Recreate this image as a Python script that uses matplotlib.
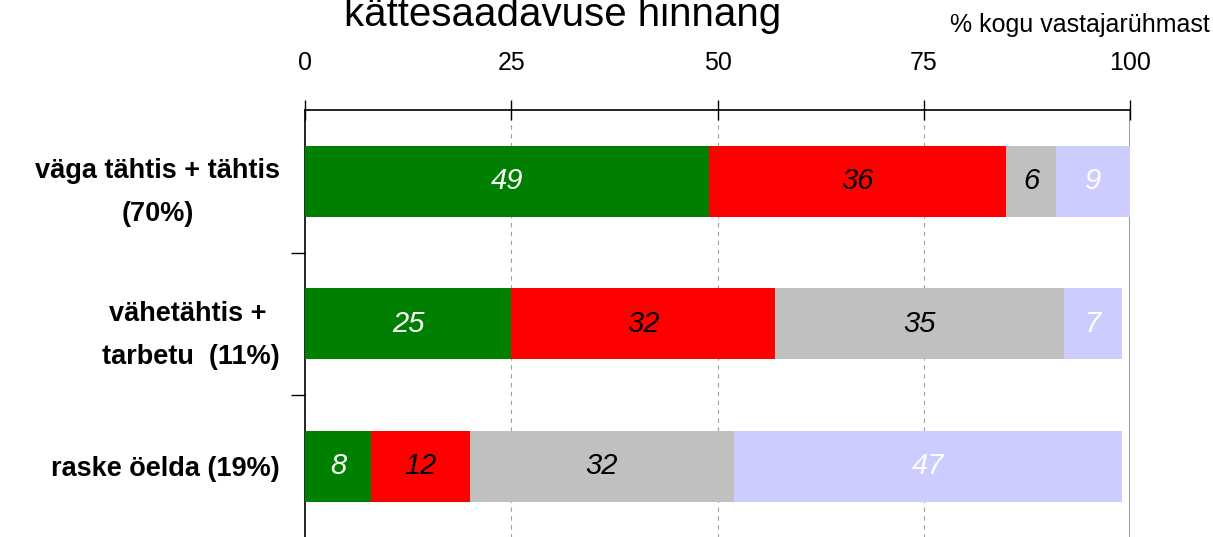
import matplotlib
matplotlib.use("Agg")
import matplotlib.pyplot as plt
import numpy as np

plt.rcParams['font.family'] = ['Liberation Sans', 'DejaVu Sans']

# andmed
categories = ["väga tähtis + tähtis\n(70%)", "vähetähtis + \ntarbetu  (11%)", "raske öelda (19%)"]
seg1 = [49, 25, 8]
seg2 = [36, 32, 12]
seg3 = [6, 35, 32]
seg4 = [9, 7, 47]
x_ticks = [0, 25, 50, 75, 100]

colors = ["#008000", "#FF0000", "#C0C0C0", "#CCCCFF"]
label_colors = ["white", "black", "black", "white"]

W, H = 1213, 537
fig = plt.figure(figsize=(W / 100, H / 100), dpi=100)
ax = fig.add_axes([305 / W, 1 - 537.5 / H, (1130 - 305) / W, (537.5 - 110) / H])

y = np.arange(len(categories))
left = np.zeros(len(categories))
for vals, c, lc in zip([seg1, seg2, seg3, seg4], colors, label_colors):
    bars = ax.barh(y, vals, left=left, height=0.5, color=c, edgecolor="none", zorder=3)
    for b, v in zip(bars, vals):
        ax.text(b.get_x() + b.get_width() / 2, b.get_y() + b.get_height() / 2, str(v),
                ha="center", va="center", color=lc, fontsize=21, style="italic", zorder=4)
    left = left + np.array(vals)

ax.set_xlim(0, 100)
ax.set_ylim(2.5, -0.5)

# x-telg üleval
ax.xaxis.tick_top()
ax.set_xticks(x_ticks)
ax.set_xticklabels([str(t) for t in x_ticks], fontsize=18)
ax.tick_params(axis="x", direction="inout", length=14, width=1, pad=18)
for t in [25, 50, 75]:
    ax.axvline(t, color="#A0A0A0", linestyle=(0, (4, 4)), linewidth=0.8, zorder=1)
ax.axvline(100, color="#909090", linewidth=2, zorder=1)

ax.set_yticks(y)
ax.set_yticklabels(categories, fontsize=19.5, fontweight="bold", multialignment="center", linespacing=1.85)
ax.tick_params(axis="y", which="major", length=0, pad=18)
ax.set_yticks([0.5, 1.5], minor=True)
ax.tick_params(axis="y", which="minor", length=10, width=1, direction="out")

ax.spines["right"].set_visible(False)
ax.spines["bottom"].set_visible(False)
ax.spines["top"].set_linewidth(1.2)
ax.spines["left"].set_linewidth(1.2)

fig.text(563 / W, 1 - 26 / H, "kättesaadavuse hinnang", ha="center", va="baseline", fontsize=29)
fig.text(1210 / W, 1 - 32 / H, "% kogu vastajarühmast", ha="right", va="baseline", fontsize=18)

fig.savefig("out.png", dpi=100)
